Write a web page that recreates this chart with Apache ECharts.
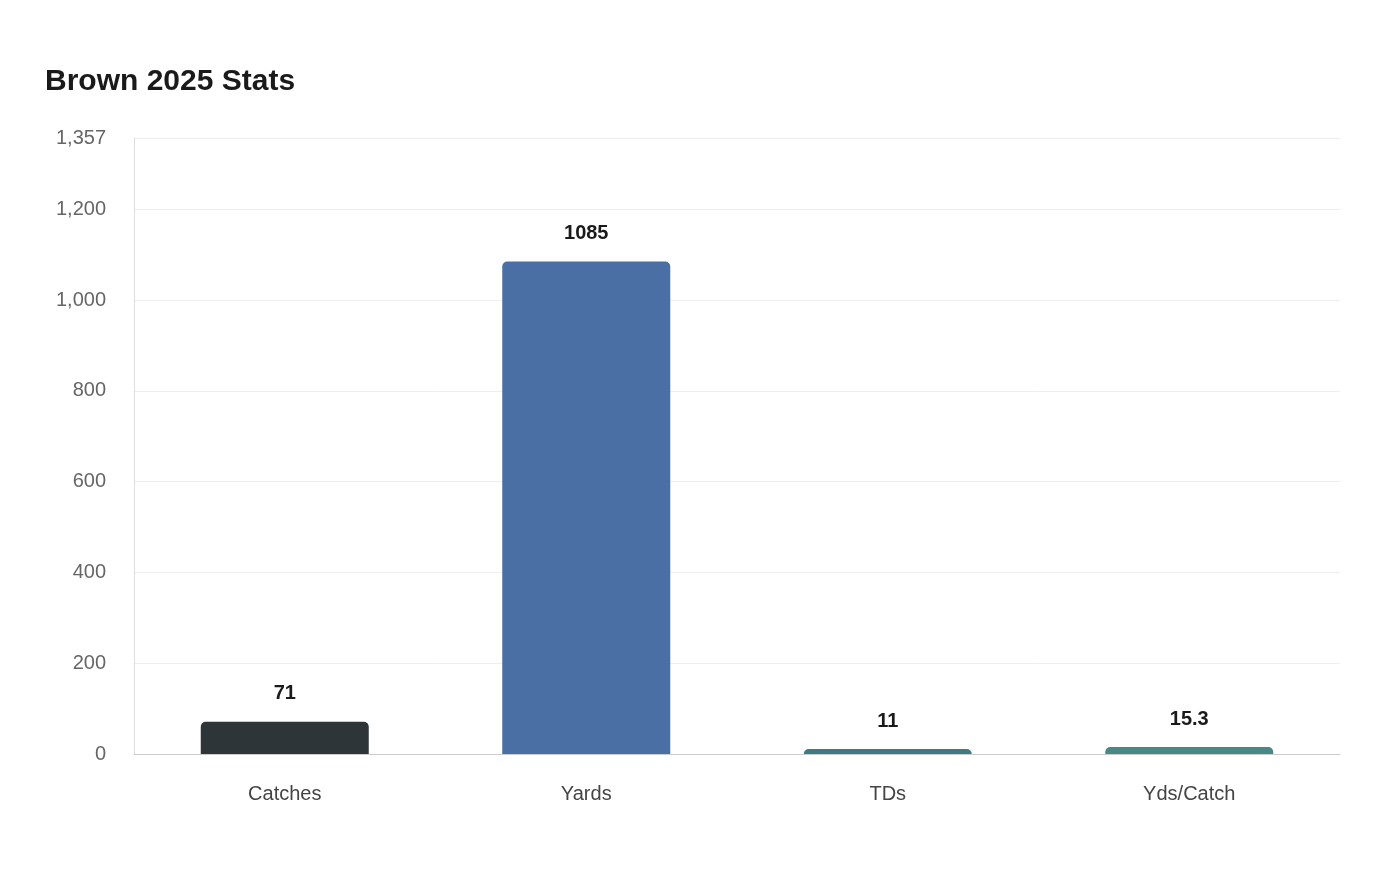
<!DOCTYPE html><html><head><meta charset="utf-8"><script src="https://cdn.jsdelivr.net/npm/echarts@6/dist/echarts.min.js"></script>
<style>html,body{margin:0;background:#fff}#c{width:1400px;height:880px}</style></head><body><div id="c"></div>
<script>
const categories=['Catches','Yards','TDs','Yds/Catch'];
const values=[71,1085,11,15.3];
const colors=['#2d3538','#4a6fa5','#3f7a82','#4a8888'];
const chart=echarts.init(document.getElementById('c'));
chart.setOption({
 title:{text:'Brown 2025 Stats',left:40,top:62,textStyle:{fontFamily:'Liberation Sans',fontSize:30,fontWeight:'bold',color:'#1a1a1a'}},
 grid:{left:134,right:60,top:138,bottom:126},
 xAxis:{type:'category',data:categories,axisTick:{show:false},axisLine:{lineStyle:{color:'#ccc'}},
  axisLabel:{fontFamily:'Liberation Sans',fontSize:20,color:'#444',margin:30}},
 yAxis:{type:'value',min:0,max:1357,interval:200,axisLine:{show:true,lineStyle:{color:'#ddd'}},
  axisLabel:{fontFamily:'Liberation Sans',fontSize:20,color:'#666',margin:28,formatter:v=>v.toLocaleString('en-US')},
  splitLine:{lineStyle:{color:'#eee'}}},
 series:[{type:'bar',barWidth:168,data:values.map((v,i)=>({value:v,itemStyle:{color:colors[i]}})),
  itemStyle:{borderRadius:[5,5,0,0]},
  label:{show:true,position:'top',distance:18,fontFamily:'Liberation Sans',fontSize:20,fontWeight:'bold',color:'#1a1a1a'}}]
});
</script></body></html>
